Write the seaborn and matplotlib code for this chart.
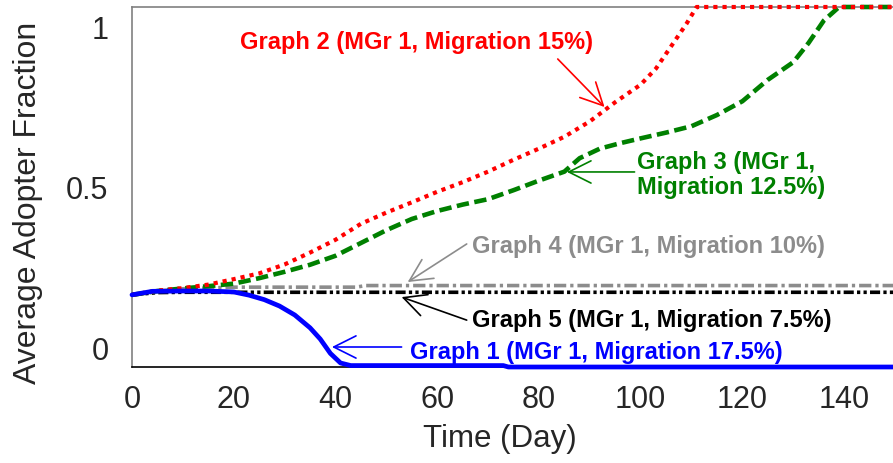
import pandas as pd
import matplotlib.pyplot as plt
import seaborn as sns

#### Data (y in tick units) ####

g1_day = [0, 4, 10, 15, 20, 23, 26, 29, 32, 35, 37, 39, 41, 43, 73, 74, 150]
g1_frac = [0.163, 0.174, 0.175, 0.175, 0.172, 0.162, 0.148, 0.128, 0.100, 0.060,
           0.025, -0.020, -0.050, -0.058, -0.058, -0.0625, -0.0625]

g2_day = [0, 5, 10, 15, 20, 25, 30, 35, 40, 45, 50, 55, 60, 65, 70, 75, 80, 85,
          90, 95, 100, 103, 106, 109, 111, 150]
g2_frac = [0.163, 0.176, 0.184, 0.195, 0.212, 0.230, 0.258, 0.295, 0.335, 0.385,
           0.420, 0.452, 0.485, 0.515, 0.548, 0.585, 0.620, 0.657, 0.705, 0.765,
           0.820, 0.870, 0.940, 1.010, 1.0625, 1.0625]

g3_day = [0, 5, 10, 15, 20, 25, 30, 35, 40, 45, 50, 55, 60, 65, 70, 75, 80, 85,
          88, 92, 96, 100, 105, 110, 115, 120, 125, 130, 133, 136, 139, 150]
g3_frac = [0.163, 0.175, 0.183, 0.190, 0.198, 0.215, 0.235, 0.257, 0.285, 0.325,
           0.365, 0.400, 0.425, 0.445, 0.462, 0.490, 0.520, 0.548, 0.590, 0.620,
           0.637, 0.652, 0.670, 0.690, 0.725, 0.768, 0.835, 0.890, 0.950, 1.020,
           1.0625, 1.0625]

g4_day = [0, 5, 10, 20, 44, 46, 150]
g4_frac = [0.163, 0.175, 0.182, 0.187, 0.187, 0.192, 0.192]

g5_day = [0, 5, 10, 150]
g5_frac = [0.163, 0.170, 0.171, 0.171]

y_ticks = [0, 0.5, 1]
y_ticklabels = ["0", "0.5", "1"]
x_ticks = [0, 20, 40, 60, 80, 100, 120, 140]

####################################################################
#### Plot ####

sns.set_style("white")
plt.rcParams['font.family'] = ['Liberation Sans', 'DejaVu Sans']

fig = plt.figure(figsize=(8.93, 4.64), dpi=100)
ax = fig.add_axes([132/893, 1 - 368/464, 763/893, 360/464])

line_kw = dict(ax=ax, clip_on=False, zorder=3)
sns.lineplot(x=g5_day, y=g5_frac, color="black", lw=2.6,
             linestyle=(0, (2.8, 0.9, 0.9, 0.9, 0.9, 0.9)), **line_kw)
sns.lineplot(x=g4_day, y=g4_frac, color="#8c8c8c", lw=2.6,
             linestyle=(0, (3.4, 1.1, 0.9, 1.1)), **line_kw)
sns.lineplot(x=g3_day, y=g3_frac, color="#008000", lw=3.3,
             linestyle=(0, (2.7, 1.2)), **line_kw)
sns.lineplot(x=g2_day, y=g2_frac, color="#ff0000", lw=3.0,
             linestyle=(0, (1, 1.2)), **line_kw)
sns.lineplot(x=g1_day, y=g1_frac, color="#0000ff", lw=3.4, **line_kw)

ax.set_xlim(0, 150)
ax.set_ylim(-0.0625, 1.0625)
ax.set_xticks(x_ticks)
ax.set_yticks(y_ticks)
ax.set_yticklabels(y_ticklabels)
ax.tick_params(axis='both', length=0, labelsize=22)
ax.tick_params(axis='y', pad=17)
ax.tick_params(axis='x', pad=12)

ax.set_xlabel("Time (Day)", fontsize=22.5)
ax.set_ylabel("Average Adopter Fraction", fontsize=23)
ax.xaxis.set_label_coords(0.482, -0.155)
ax.yaxis.set_label_coords(-0.116, 0.458)

for side in ['left', 'top']:
    ax.spines[side].set_color("#808080")
    ax.spines[side].set_linewidth(1.2)
ax.spines['bottom'].set_color("black")
ax.spines['bottom'].set_linewidth(1.2)
ax.spines['right'].set_visible(False)

#### Annotations ####
arrow = '->,head_length=1.6,head_width=0.8'

ax.text(56.0, 0.956, "Graph 2 (MGr 1, Migration 15%)", color="#ff0000",
        fontsize=17, fontweight='bold', ha='center', va='center')
ax.annotate("", xy=(92.9, 0.75), xytext=(83.7, 0.90),
            arrowprops=dict(arrowstyle=arrow, color="#ff0000", lw=1.2,
                            shrinkA=0, shrinkB=0))

ax.text(99.2, 0.54, "Graph 3 (MGr 1,\nMigration 12.5%)", color="#008000",
        fontsize=17, fontweight='bold', ha='left', va='center', linespacing=1.1)
ax.annotate("", xy=(85.5, 0.547), xytext=(98.8, 0.547),
            arrowprops=dict(arrowstyle=arrow, color="#008000", lw=1.2,
                            shrinkA=0, shrinkB=0))

ax.text(66.8, 0.316, "Graph 4 (MGr 1, Migration 10%)", color="#8c8c8c",
        fontsize=17, fontweight='bold', ha='left', va='center')
ax.annotate("", xy=(54.2, 0.203), xytext=(65.8, 0.322),
            arrowprops=dict(arrowstyle=arrow, color="#8c8c8c", lw=1.2,
                            shrinkA=0, shrinkB=0))

ax.text(66.8, 0.0875, "Graph 5 (MGr 1, Migration 7.5%)", color="black",
        fontsize=17, fontweight='bold', ha='left', va='center')
ax.annotate("", xy=(53.0, 0.156), xytext=(65.8, 0.084),
            arrowprops=dict(arrowstyle=arrow, color="black", lw=1.2,
                            shrinkA=0, shrinkB=0))

ax.text(54.6, -0.0125, "Graph 1 (MGr 1, Migration 17.5%)", color="#0000ff",
        fontsize=17, fontweight='bold', ha='left', va='center')
ax.annotate("", xy=(39.3, 0.0), xytext=(53.0, 0.0),
            arrowprops=dict(arrowstyle=arrow, color="#0000ff", lw=1.2,
                            shrinkA=0, shrinkB=0))

plt.savefig("out.png", dpi=100)
